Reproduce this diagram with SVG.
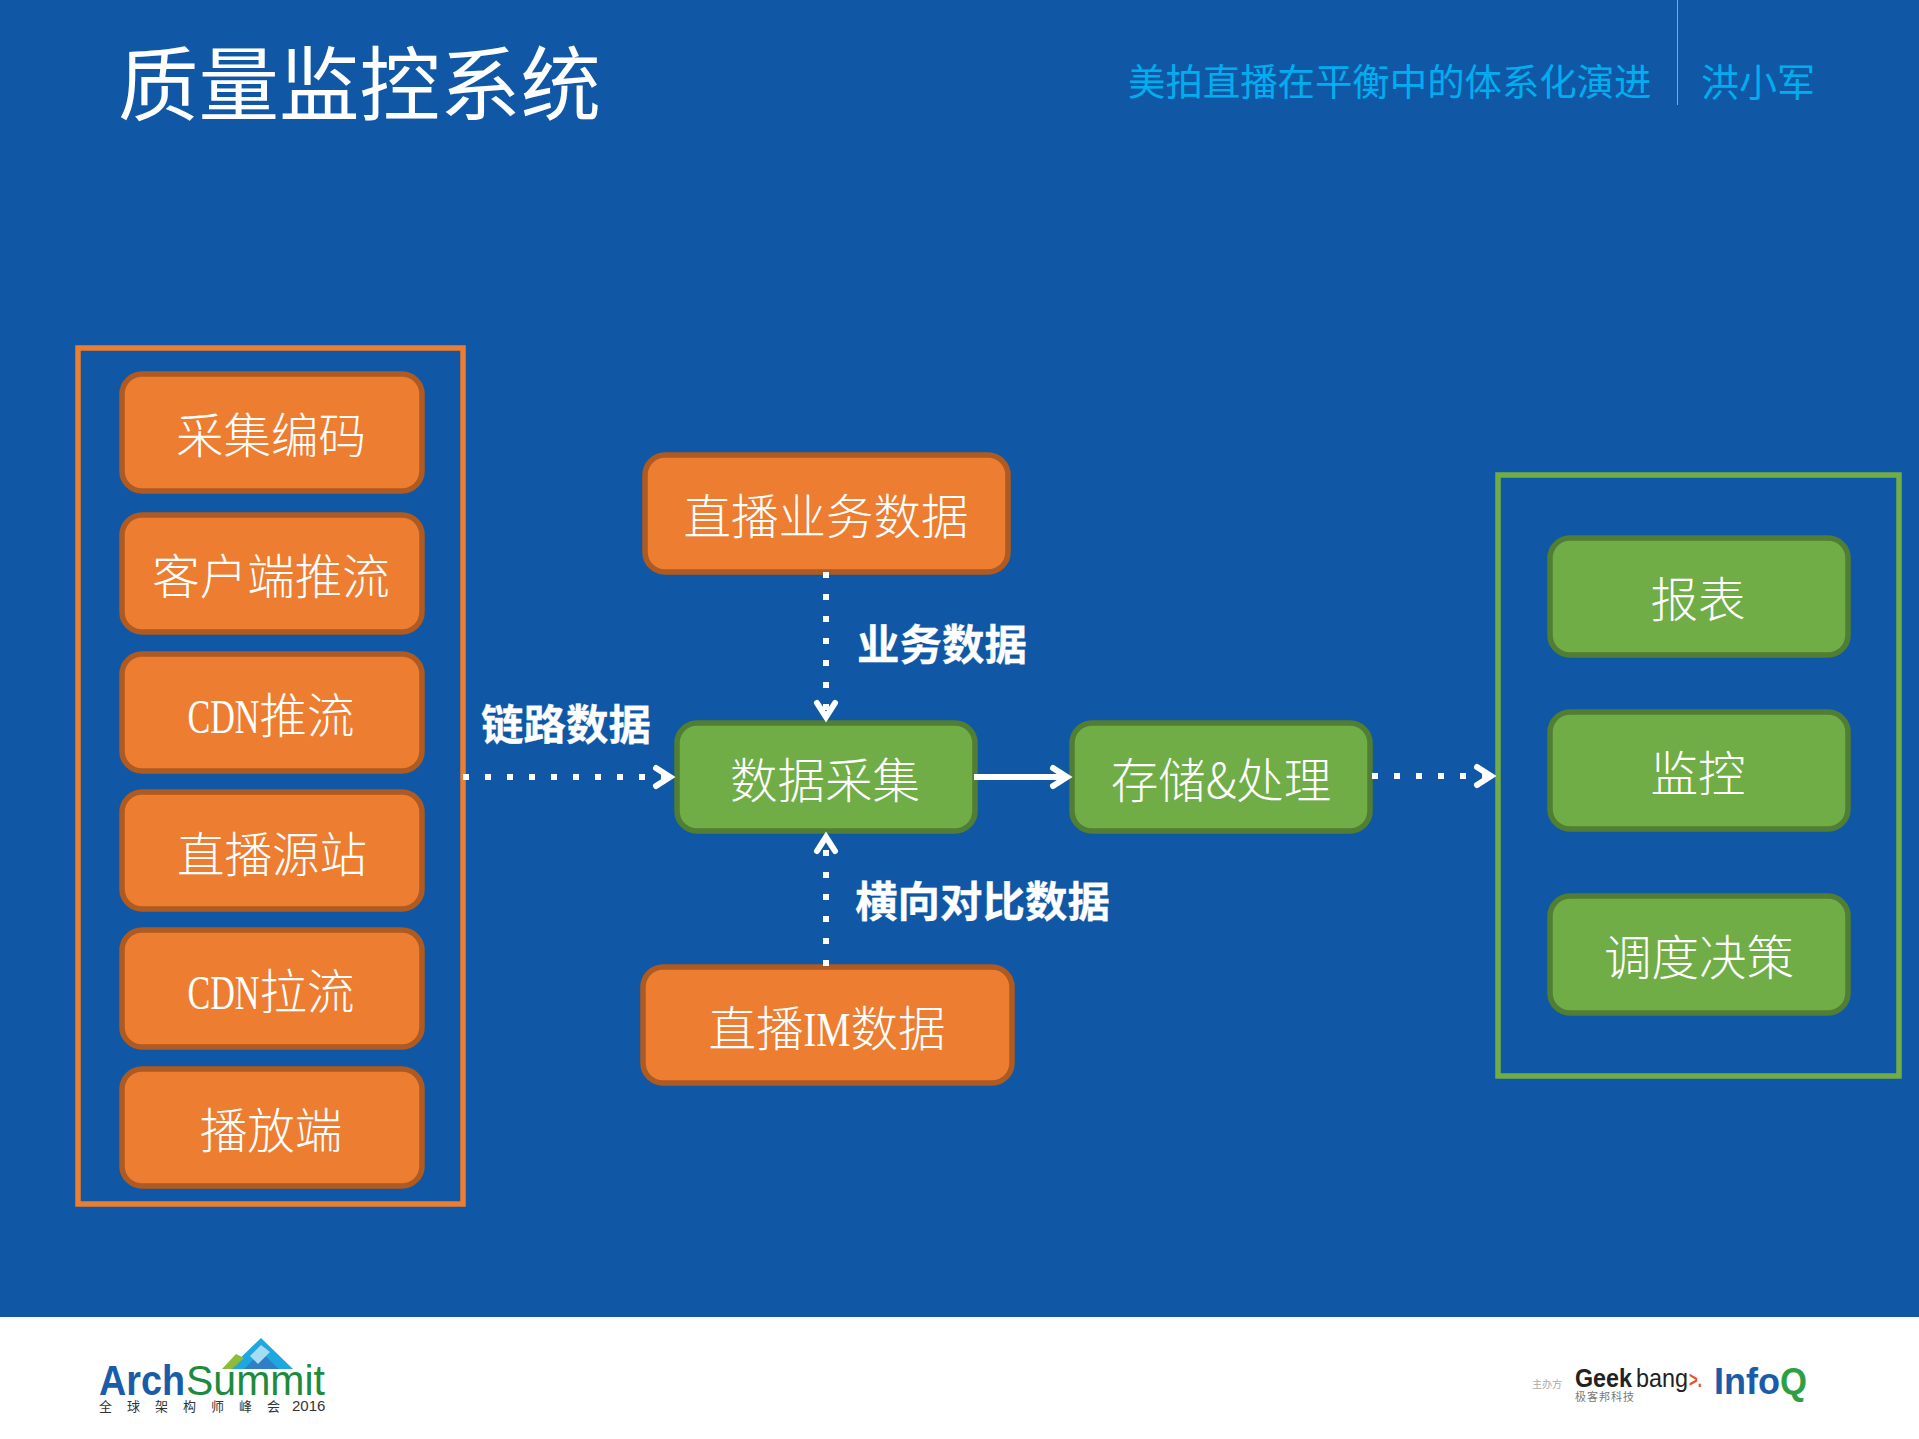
<svg xmlns="http://www.w3.org/2000/svg" width="1919" height="1439" viewBox="0 0 1919 1439">
<style>
text{font-family:"Noto Sans CJK SC","Noto Sans",sans-serif}
.o{fill:#ED7D31;stroke:#AE5A21;stroke-width:5.5}
.g{fill:#70AD47;stroke:#507E32;stroke-width:5.5}
.n{fill:#fff;font-size:47.5px;font-weight:300;text-anchor:middle}
.n tspan.l{font-family:"Liberation Serif",serif}
.lb{fill:#fff;font-size:42.5px;font-weight:700;stroke:#fff;stroke-width:.3}
.d{fill:none;stroke:#fff;stroke-width:6;stroke-dasharray:6 16}
.s{fill:none;stroke:#fff;stroke-width:6}
.c{fill:none;stroke:#fff;stroke-width:6;stroke-linecap:round;stroke-linejoin:miter}
.sub{fill:#00AEEF;font-size:37.4px;font-weight:400}
.ls{font-family:"Liberation Sans",sans-serif}
</style>
<rect width="1919" height="1439" fill="#1058A5"/>
<rect y="1317" width="1919" height="122" fill="#fff"/>
<g id="header">
<text x="118" y="114" fill="#fff" font-size="80.5" font-weight="400">质量监控系统</text>
<text class="sub" x="1128" y="96">美拍直播在平衡中的体系化演进</text>
<rect x="1677" y="0" width="1" height="105" fill="#7FA8D6"/>
<text class="sub" x="1701" y="96" style="font-size:38px">洪小军</text>
</g>
<g id="left-group">
<rect x="78" y="348" width="385" height="856" fill="none" stroke="#ED7D31" stroke-width="5.5"/>
</g>
<g id="right-group">
<rect x="1498" y="475" width="401" height="601" fill="none" stroke="#70AD47" stroke-width="5.5"/>
</g>
<g id="n1"><rect class="o" x="122" y="374" width="300" height="117" rx="20"/><text class="n" x="271" y="453">采集编码</text></g>
<g id="n2"><rect class="o" x="122" y="515" width="300" height="117" rx="20"/><text class="n" x="271" y="594">客户端推流</text></g>
<g id="n3"><rect class="o" x="122" y="654" width="300" height="117" rx="20"/><text class="n" x="271" y="733"><tspan class="l" textLength="72" lengthAdjust="spacingAndGlyphs">CDN</tspan>推流</text></g>
<g id="n4"><rect class="o" x="122" y="792" width="300" height="117" rx="20"/><text class="n" x="272" y="872">直播源站</text></g>
<g id="n5"><rect class="o" x="122" y="930" width="300" height="117" rx="20"/><text class="n" x="271" y="1009"><tspan class="l" textLength="72" lengthAdjust="spacingAndGlyphs">CDN</tspan>拉流</text></g>
<g id="n6"><rect class="o" x="122" y="1069" width="300" height="117" rx="20"/><text class="n" x="271" y="1148">播放端</text></g>
<g id="n7"><rect class="o" x="645" y="455" width="363" height="117" rx="20"/><text class="n" x="826" y="534">直播业务数据</text></g>
<g id="n8"><rect class="g" x="677" y="723" width="298" height="108" rx="20"/><text class="n" x="825" y="798">数据采集</text></g>
<g id="n9"><rect class="g" x="1072" y="723" width="298" height="108" rx="20"/><text class="n" x="1221" y="798">存储&amp;处理</text></g>
<g id="n10"><rect class="o" x="643" y="967" width="369" height="116" rx="20"/><text class="n" x="827" y="1046">直播<tspan class="l" textLength="47" lengthAdjust="spacingAndGlyphs">IM</tspan>数据</text></g>
<g id="n11"><rect class="g" x="1550" y="538" width="298" height="117" rx="20"/><text class="n" x="1698" y="617">报表</text></g>
<g id="n12"><rect class="g" x="1550" y="712" width="298" height="117" rx="20"/><text class="n" x="1698" y="791">监控</text></g>
<g id="n13"><rect class="g" x="1550" y="896" width="298" height="117" rx="20"/><text class="n" x="1699" y="975">调度决策</text></g>
<g id="connectors">
<path class="d" d="M463 777H666"/><path class="c" d="M656 768L670 777L656 786"/>
<path class="d" d="M826 572V714"/><path class="c" d="M817 703L826 717L835 703"/>
<path class="d" d="M826 966V842"/><path class="c" d="M817 851L826 837L835 851"/>
<path class="s" d="M974 777H1063"/><path class="c" d="M1053 768L1067 777L1053 786"/>
<path class="d" d="M1372 776H1488"/><path class="c" d="M1477 767L1491 776L1477 785"/>
</g>
<g id="labels">
<text class="lb" x="481" y="740">链路数据</text>
<text class="lb" x="857" y="660">业务数据</text>
<text class="lb" x="855" y="917">横向对比数据</text>
</g>
<g id="logo-archsummit">
<polygon points="261,1338 293,1369 229,1369" fill="#1FA8E0"/>
<polygon points="261,1352 279,1369 244,1369" fill="#2F7FC8"/>
<polygon points="222,1369 236,1354 244,1358 232,1369" fill="#8DBB3C"/>
<polygon points="250,1356 261,1345 270,1352 258,1364" fill="#A8DCF2"/>
<text class="ls" x="99" y="1395" font-size="42" font-weight="700" fill="#1A5CA8" textLength="86" lengthAdjust="spacingAndGlyphs">Arch</text>
<text class="ls" x="186" y="1395" font-size="42" fill="#1E8A3E" textLength="139" lengthAdjust="spacingAndGlyphs">Summit</text>
<text x="99" y="1411" font-size="13" fill="#333" letter-spacing="15">全球架构师峰会</text>
<text class="ls" x="292" y="1411" font-size="15" fill="#333">2016</text>
</g>
<g id="logo-geekbang">
<text x="1532" y="1388" font-size="10" fill="#aaa">主办方</text>
<text class="ls" x="1575" y="1387" font-size="26" font-weight="700" fill="#222" textLength="57" lengthAdjust="spacingAndGlyphs">Geek</text>
<text class="ls" x="1636" y="1387" font-size="26" fill="#222" textLength="52" lengthAdjust="spacingAndGlyphs">bang</text>
<text class="ls" x="1689" y="1387" font-size="22" font-weight="700" fill="#E0562A" textLength="13" lengthAdjust="spacingAndGlyphs">&gt;.</text>
<text x="1575" y="1401" font-size="11" fill="#777" letter-spacing="1">极客邦科技</text>
<text class="ls" x="1714" y="1394" font-size="36" font-weight="700" fill="#1A5CA8" textLength="66" lengthAdjust="spacingAndGlyphs">Info</text>
<text class="ls" x="1780" y="1394" font-size="36" font-weight="700" fill="#2EA043" textLength="27" lengthAdjust="spacingAndGlyphs">Q</text>
</g>
</svg>
